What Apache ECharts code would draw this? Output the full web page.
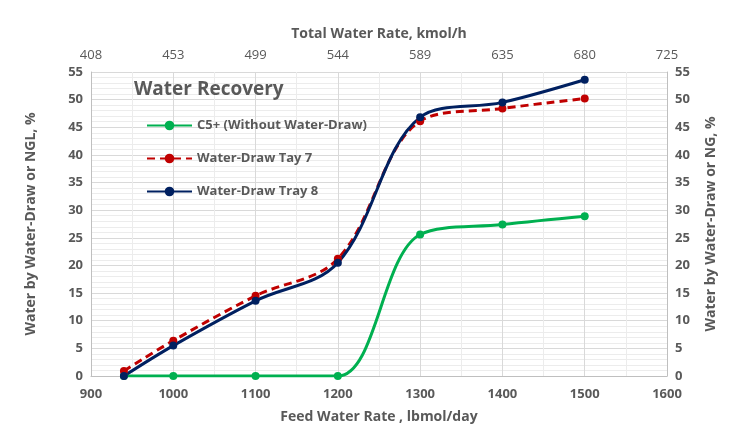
<!DOCTYPE html>
<html><head><meta charset="utf-8">
<script src="https://cdn.jsdelivr.net/npm/echarts@6/dist/echarts.min.js"></script>
<style>html,body{margin:0;padding:0;background:#fff}#c{width:741px;height:431px}</style>
</head><body><div id="c"></div>
<script>
const feedRates = [940, 1000, 1100, 1200, 1300, 1400, 1500];
const c5Plus = [0, 0, 0, 0, 25.6, 27.4, 28.9];
const tay7 = [0.9, 6.4, 14.5, 21.2, 46.1, 48.4, 50.2];
const tray8 = [0, 5.5, 13.6, 20.5, 46.8, 49.5, 53.6];
const topTickLabels = ['408', '453', '499', '544', '589', '635', '680', '725'];
const seriesNames = ['C5+ (Without Water-Draw)', 'Water-Draw Tay 7', 'Water-Draw Tray 8'];

const gray = '#595959';
const font = 'Open Sans';
const pair = arr => feedRates.map((x, i) => [x, arr[i]]);

const chart = echarts.init(document.getElementById('c'));
const yAxisBase = {
  type: 'value', min: 0, max: 55, interval: 5,
  axisLine: { show: true, lineStyle: { color: '#bfbfbf' } },
  axisTick: { show: false },
  axisLabel: { color: gray, fontSize: 13, fontFamily: font, fontWeight: 'bold' },
  nameLocation: 'middle',
  nameTextStyle: { color: gray, fontSize: 14, fontWeight: 'bold', fontFamily: font },
};
chart.setOption({
  animation: false,
  title: {
    text: 'Water Recovery', left: 129, top: 75,
    textStyle: { color: gray, fontSize: 19, fontWeight: 'bold', fontFamily: font }
  },
  legend: {
    data: seriesNames, orient: 'vertical', left: 141, top: 114, itemGap: 20,
    itemWidth: 45, itemHeight: 12,
    textStyle: { color: gray, fontSize: 13, fontWeight: 'bold', fontFamily: font }
  },
  grid: { left: 91, right: 74, top: 72, bottom: 55 },
  xAxis: [{
    type: 'value', min: 900, max: 1600, interval: 100, position: 'bottom',
    name: 'Feed Water Rate , lbmol/day', nameLocation: 'middle', nameGap: 34,
    nameTextStyle: { color: gray, fontSize: 14, fontWeight: 'bold', fontFamily: font },
    axisLine: { lineStyle: { color: '#bfbfbf' } },
    axisTick: { show: false },
    axisLabel: { color: gray, fontSize: 13, fontFamily: font, fontWeight: 'bold', margin: 12,
      formatter: v => String(v) },
    splitLine: { show: true, lineStyle: { color: '#d9d9d9' } },
    minorTick: { show: false, splitNumber: 2 },
    minorSplitLine: { show: true, lineStyle: { color: '#ececec' } }
  }, {
    type: 'value', min: 900, max: 1600, interval: 100, position: 'top',
    name: 'Total Water Rate, kmol/h', nameLocation: 'middle', nameGap: 31,
    nameTextStyle: { color: gray, fontSize: 14, fontWeight: 'bold', fontFamily: font },
    axisLine: { show: false }, axisTick: { show: false },
    axisLabel: { color: gray, fontSize: 13, fontFamily: font, margin: 10,
      formatter: v => topTickLabels[Math.round((v - 900) / 100)] },
    splitLine: { show: false }
  }],
  yAxis: [Object.assign({}, yAxisBase, {
    position: 'left', name: 'Water by Water-Draw or NGL, %', nameGap: 53,
    splitLine: { show: true, lineStyle: { color: '#d9d9d9' } },
    minorTick: { show: false, splitNumber: 5 },
    minorSplitLine: { show: true, lineStyle: { color: '#ececec' } }
  }), Object.assign({}, yAxisBase, {
    position: 'right', name: 'Water by Water-Draw or NG, %', nameGap: 37,
    splitLine: { show: false }
  })],
  series: [{
    name: seriesNames[0], type: 'line', data: pair(c5Plus), smooth: 0.35,
    symbol: 'circle', symbolSize: 8, color: '#00B050',
    lineStyle: { width: 3, color: '#00B050' }, itemStyle: { color: '#00B050' }
  }, {
    name: seriesNames[1], type: 'line', data: pair(tay7), smooth: 0.35,
    symbol: 'circle', symbolSize: 8, color: '#C00000',
    lineStyle: { width: 3, type: [8, 5], color: '#C00000' }, itemStyle: { color: '#C00000' }
  }, {
    name: seriesNames[2], type: 'line', data: pair(tray8), smooth: 0.35,
    symbol: 'circle', symbolSize: 8, color: '#002060',
    lineStyle: { width: 3, color: '#002060' }, itemStyle: { color: '#002060' }
  }]
});
</script></body></html>
